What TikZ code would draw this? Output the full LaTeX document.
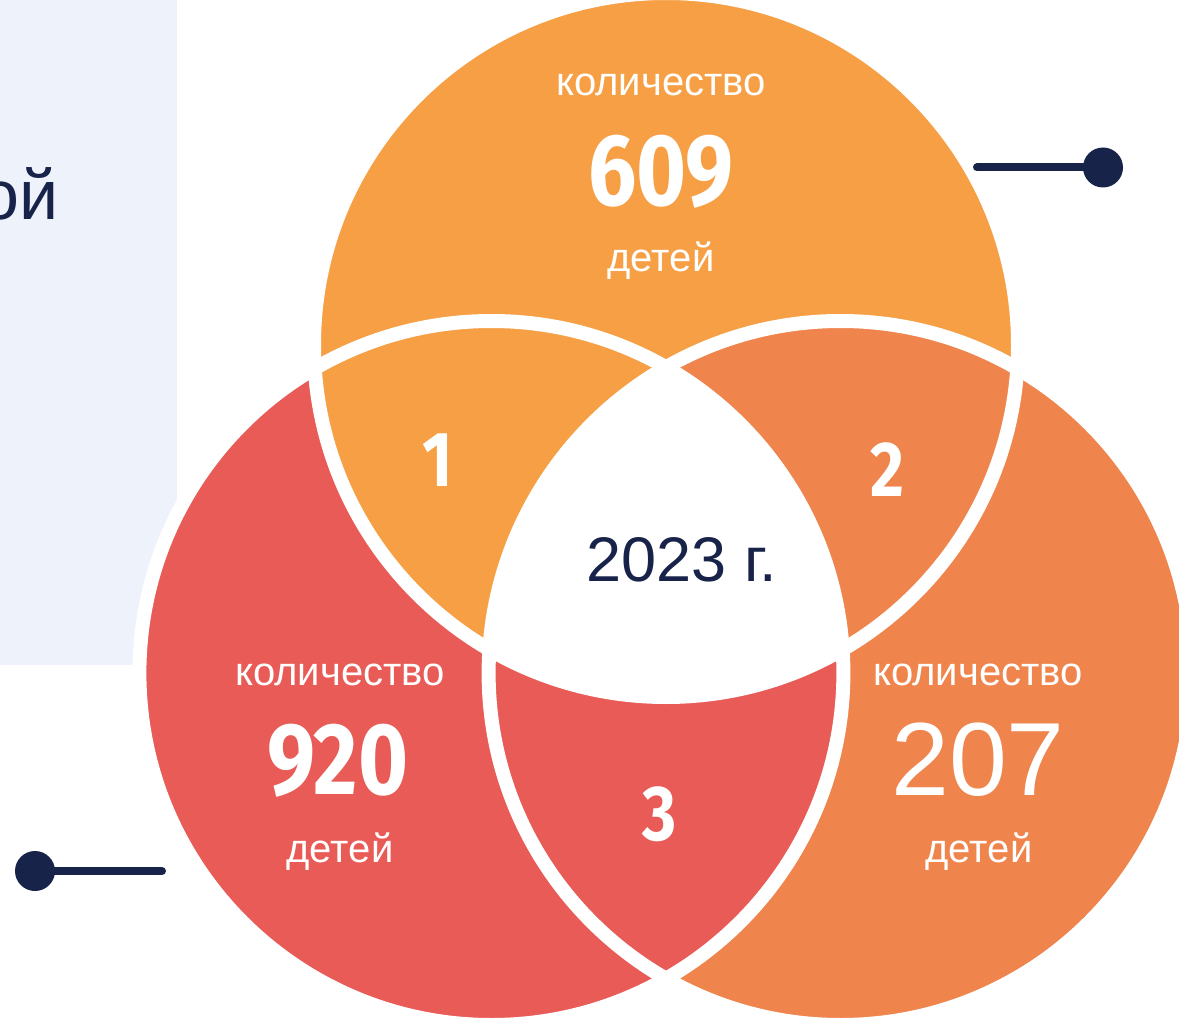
\documentclass[tikz,border=0pt]{standalone}
\usepackage{fontspec}
\setmainfont{Liberation Sans}
\newfontfamily\numfont[FakeStretch=0.84]{Fira Sans}
\definecolor{topor}{HTML}{F69F45}
\definecolor{rightor}{HTML}{EF844C}
\definecolor{leftred}{HTML}{E85B56}
\definecolor{lav}{HTML}{EEF2FB}
\definecolor{navy}{HTML}{18234A}
\begin{document}
\begin{tikzpicture}[x=1pt,y=-1pt,
  lbl/.style={text=white,font=\fontsize{40}{48}\selectfont,anchor=base,inner sep=0pt},
  bignum/.style={text=white,font=\numfont\bfseries\fontsize{102}{110}\selectfont,anchor=base,inner sep=0pt},
  regnum/.style={text=white,font=\numfont\bfseries\fontsize{78}{86}\selectfont,anchor=base,inner sep=0pt},
  thinnum/.style={text=white,font=\fontsize{104}{112}\selectfont,anchor=base,inner sep=0pt},
  yeartext/.style={text=navy,font=\fontsize{63}{72}\selectfont,anchor=base,inner sep=0pt},
  dotnode/.style={circle,fill=navy,minimum size=40pt,inner sep=0pt},
  pin/.style={navy,line width=8pt,line cap=round},
  ring/.style={white,line width=14pt}]
\useasboundingbox (0,0) rectangle (1179,1019);
\fill[lav] (0,0) rectangle (177,665);
\node[text=navy,font=\fontsize{70}{80}\selectfont,anchor=base east,inner sep=0pt] (cut) at (59,220) {ой};
\coordinate (T) at (666,345);
\coordinate (L) at (491.4,673);
\coordinate (R) at (840.6,673);
\def\circR{352}
% base fills
\fill[leftred] (L) circle[radius=\circR];
\fill[rightor] (R) circle[radius=\circR];
\fill[topor] (T) circle[radius=\circR];
% region 2: top and right -> right colour
\begin{scope}
  \clip (T) circle[radius=\circR];
  \fill[rightor] (R) circle[radius=\circR];
\end{scope}
% region 3: left and right -> left colour
\begin{scope}
  \clip (R) circle[radius=\circR];
  \fill[leftred] (L) circle[radius=\circR];
\end{scope}
% centre: white
\begin{scope}
  \clip (T) circle[radius=\circR];
  \clip (L) circle[radius=\circR];
  \fill[white] (R) circle[radius=\circR];
\end{scope}
% white rings
\draw[ring] (T) circle[radius=\circR];
\draw[ring] (L) circle[radius=\circR];
\draw[ring] (R) circle[radius=\circR];
% texts
\node[lbl] (k1) at (661,96) {количество};
\node[bignum] (n1) at (661,206) {609};
\node[lbl] (d1) at (661,272) {детей};
\node[lbl] (k2) at (340,685) {количество};
\node[bignum] (n2) at (338,794) {920};
\node[lbl] (d2) at (340,862) {детей};
\node[lbl] (k3) at (978,685) {количество};
\node[thinnum] (n3) at (978,795) {207};
\node[lbl] (d3) at (979,862) {детей};
\node[regnum] (r1) at (438,486) {1};
\node[regnum] (r2) at (887,496) {2};
\node[regnum] (r3) at (660,840) {3};
\node[yeartext] (yr) at (682,581) {2023 г.};
% pins
\node[dotnode] (p1) at (1103,167.5) {};
\coordinate (e1) at (977,167.5);
\draw[pin] (e1) -- (p1.center);
\node[dotnode] (p2) at (35,871) {};
\coordinate (e2) at (162,871);
\draw[pin] (e2) -- (p2.center);
\end{tikzpicture}
\end{document}
